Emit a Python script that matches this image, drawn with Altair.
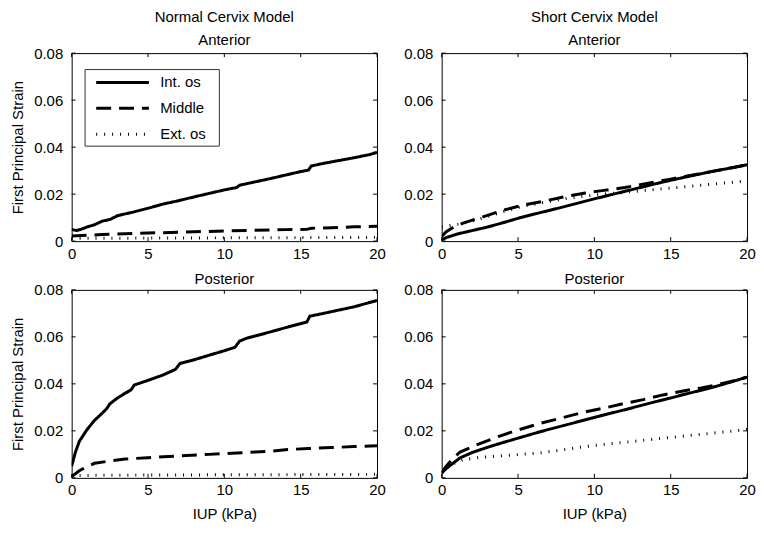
import altair as alt
import pandas as pd

SERIES = ["Int. os", "Middle", "Ext. os"]
DASHES = [[1, 0], [15, 8], [1, 7]]
X_TICKS = [0, 5, 10, 15, 20]
Y_TICKS = [0, 0.02, 0.04, 0.06, 0.08]

# ---- Normal cervix, anterior ----
na_int_x = [0, 0.3, 0.6, 1.0, 1.5, 2.0, 2.5, 3.0, 3.5, 4.0, 5.0, 6.0, 7.0, 8.0, 9.0, 10.0, 10.8, 11.0, 12.0, 13.0, 14.0, 15.0, 15.5, 15.7, 16.5, 17.5, 18.5, 19.5, 20]
na_int_y = [0.0050, 0.0045, 0.0050, 0.0060, 0.0070, 0.0085, 0.0092, 0.0108, 0.0116, 0.0123, 0.0140, 0.0158, 0.0172, 0.0188, 0.0203, 0.0218, 0.0228, 0.0238, 0.0252, 0.0266, 0.0281, 0.0296, 0.0302, 0.0320, 0.0331, 0.0343, 0.0355, 0.0368, 0.0378]
na_mid_x = [0, 1, 2, 4, 6, 8, 10, 12, 14, 15.4, 15.7, 17, 18.5, 20]
na_mid_y = [0.0022, 0.0025, 0.0028, 0.0033, 0.0036, 0.0040, 0.0043, 0.0046, 0.0049, 0.0050, 0.0055, 0.0057, 0.0061, 0.0063]
na_ext_x = [0, 5, 10, 15, 20]
na_ext_y = [0.0012, 0.0013, 0.0014, 0.0015, 0.0016]

# ---- Short cervix, anterior ----
sa_int_x = [0, 0.3, 1, 2, 3, 4, 5, 6, 7, 8, 9, 10, 11, 12, 13, 14, 15, 16, 17, 18, 19, 20]
sa_int_y = [0.0005, 0.0015, 0.0030, 0.0045, 0.0060, 0.0078, 0.0097, 0.0114, 0.0130, 0.0146, 0.0163, 0.0180, 0.0196, 0.0212, 0.0228, 0.0244, 0.0259, 0.0273, 0.0287, 0.0300, 0.0312, 0.0325]
sa_mid_x = [0, 0.3, 0.8, 1.4, 2.7, 4.0, 5.3, 6.7, 8.0, 9.4, 10.5, 12, 13, 14, 15, 16, 17, 18, 19, 20]
sa_mid_y = [0.0020, 0.0040, 0.0060, 0.0077, 0.0103, 0.0131, 0.0153, 0.0170, 0.0188, 0.0205, 0.0215, 0.0228, 0.0240, 0.0252, 0.0264, 0.0276, 0.0288, 0.0300, 0.0312, 0.0325]
sa_ext_x = [0, 0.5, 1.4, 2.7, 4, 5.3, 6.7, 8, 9.4, 10.5, 12, 13, 14, 15, 16, 17, 18, 19, 20]
sa_ext_y = [0.0060, 0.0066, 0.0075, 0.0098, 0.0125, 0.0148, 0.0165, 0.0180, 0.0192, 0.0199, 0.0208, 0.0214, 0.0220, 0.0226, 0.0232, 0.0238, 0.0244, 0.0250, 0.0256]

# ---- Normal cervix, posterior ----
np_int_x = [0, 0.25, 0.5, 1.0, 1.5, 2.0, 2.3, 2.5, 3.0, 3.5, 3.9, 4.1, 5.0, 6.0, 6.8, 7.1, 8.0, 9.0, 10.0, 10.7, 11.0, 11.5, 12.5, 13.5, 14.5, 15.4, 15.6, 16.5, 17.5, 18.5, 19.5, 20]
np_int_y = [0.0050, 0.0110, 0.0155, 0.0205, 0.0245, 0.0275, 0.0295, 0.0315, 0.0340, 0.0360, 0.0375, 0.0395, 0.0415, 0.0438, 0.0462, 0.0487, 0.0502, 0.0522, 0.0541, 0.0556, 0.0582, 0.0595, 0.0612, 0.0630, 0.0648, 0.0663, 0.0688, 0.0700, 0.0714, 0.0728, 0.0746, 0.0755]
np_mid_x = [0, 0.5, 1.0, 1.5, 2.5, 3.5, 5, 6, 7.5, 9, 10.5, 12, 12.8, 14, 15.5, 17, 18.5, 20]
np_mid_y = [0.0005, 0.0030, 0.0048, 0.0062, 0.0072, 0.0080, 0.0086, 0.0090, 0.0095, 0.0100, 0.0105, 0.0110, 0.0112, 0.0120, 0.0125, 0.0129, 0.0133, 0.0137]
np_ext_x = [0, 5, 10, 15, 20]
np_ext_y = [0.0010, 0.0012, 0.0013, 0.0014, 0.0015]

# ---- Short cervix, posterior ----
sp_int_x = [0, 0.3, 0.7, 1.2, 2, 3, 4, 5, 6, 7, 8, 9, 10, 11, 12, 13, 14, 15, 16, 17, 18, 19, 20]
sp_int_y = [0.0020, 0.0040, 0.0060, 0.0085, 0.0108, 0.0130, 0.0150, 0.0169, 0.0188, 0.0206, 0.0223, 0.0240, 0.0257, 0.0274, 0.0290, 0.0307, 0.0324, 0.0340, 0.0357, 0.0373, 0.0390, 0.0409, 0.0429]
sp_mid_x = [0, 0.3, 0.7, 1.2, 2, 2.5, 3.8, 5, 6.4, 7.8, 9.2, 10.5, 11.8, 13.2, 14.5, 15.9, 17, 18, 19, 20]
sp_mid_y = [0.0022, 0.0050, 0.0080, 0.0110, 0.0132, 0.0146, 0.0178, 0.0204, 0.0231, 0.0254, 0.0278, 0.0295, 0.0314, 0.0333, 0.0353, 0.0371, 0.0383, 0.0396, 0.0411, 0.0428]
sp_ext_x = [0, 0.3, 0.7, 1.4, 2.5, 4.2, 6.4, 8, 9.6, 11, 12.5, 14.8, 16.5, 18, 20]
sp_ext_y = [0.0020, 0.0040, 0.0058, 0.0077, 0.0087, 0.0095, 0.0106, 0.0120, 0.0135, 0.0145, 0.0155, 0.0171, 0.0182, 0.0192, 0.0206]

FONT = "Liberation Sans"
W, H = 307, 189
TICK = 4


def make_df(parts):
    rows = []
    for name, xs, ys in parts:
        for i, (x, y) in enumerate(zip(xs, ys)):
            rows.append({"series": name, "order": i, "iup": x, "strain": y})
    return pd.DataFrame(rows)


def panel(parts, title, subtitle, x_title, y_title, show_legend, offset):
    df = make_df(parts)
    xs = alt.Scale(domain=[0, 20], nice=False, zero=False)
    ys = alt.Scale(domain=[0, 0.08], nice=False)
    xa = dict(values=X_TICKS, format="~g", labelFlush=False, labelPadding=5,
              title="IUP (kPa)" if x_title else "")
    ya = dict(values=Y_TICKS, format="~g", labelFlush=False, labelPadding=9,
              title="First Principal Strain" if y_title else "")
    X = lambda f: alt.X(f, scale=xs, axis=alt.Axis(**xa))
    Y = lambda f: alt.Y(f, scale=ys, axis=alt.Axis(**ya))

    if show_legend:
        leg = alt.Legend(
            title=None, orient="none", legendX=13, legendY=16, strokeColor="#333333",
            fillColor="white", padding=3, symbolType="M-1,0H5M11.9,0", symbolSize=312,
            symbolOffset=7, symbolStrokeWidth=3, symbolStrokeColor="black", labelFontSize=15,
            labelFont=FONT, labelColor="black", labelOffset=45, rowPadding=7,
        )
    else:
        leg = None

    lines = alt.Chart(df).mark_line(color="black", strokeWidth=3, strokeCap="butt", clip=True).encode(
        x=X("iup:Q"),
        y=Y("strain:Q"),
        strokeDash=alt.StrokeDash("series:N", scale=alt.Scale(domain=SERIES, range=DASHES),
                                  legend=leg, sort=SERIES),
        order="order:Q",
    )
    xt = pd.DataFrame({"iup": X_TICKS})
    yt = pd.DataFrame({"strain": Y_TICKS})
    tb = alt.Chart(xt).mark_rule(color="black", strokeWidth=1).encode(
        x=X("iup:Q"), y=alt.value(H), y2=alt.value(H - TICK))
    tt = alt.Chart(xt).mark_rule(color="black", strokeWidth=1).encode(
        x=X("iup:Q"), y=alt.value(0), y2=alt.value(TICK))
    tl = alt.Chart(yt).mark_rule(color="black", strokeWidth=1).encode(
        y=Y("strain:Q"), x=alt.value(0), x2=alt.value(TICK))
    tr = alt.Chart(yt).mark_rule(color="black", strokeWidth=1).encode(
        y=Y("strain:Q"), x=alt.value(W - TICK), x2=alt.value(W))

    tp = dict(text=title, fontSize=15, font=FONT, fontWeight="normal", color="black",
              anchor="middle", offset=offset)
    if subtitle:
        tp.update(subtitle=subtitle, subtitleFontSize=15, subtitleFont=FONT,
                  subtitleColor="black", subtitlePadding=8)
    return alt.layer(lines, tb, tt, tl, tr).properties(
        width=W, height=H, title=alt.TitleParams(**tp))


na = panel([("Int. os", na_int_x, na_int_y), ("Middle", na_mid_x, na_mid_y), ("Ext. os", na_ext_x, na_ext_y)],
           "Normal Cervix Model", "Anterior", False, True, True, -2)
sa = panel([("Int. os", sa_int_x, sa_int_y), ("Middle", sa_mid_x, sa_mid_y), ("Ext. os", sa_ext_x, sa_ext_y)],
           "Short Cervix Model", "Anterior", False, False, False, -2)
npn = panel([("Int. os", np_int_x, np_int_y), ("Middle", np_mid_x, np_mid_y), ("Ext. os", np_ext_x, np_ext_y)],
            "Posterior", None, True, True, False, -4)
sp = panel([("Int. os", sp_int_x, sp_int_y), ("Middle", sp_mid_x, sp_mid_y), ("Ext. os", sp_ext_x, sp_ext_y)],
           "Posterior", None, True, False, False, -4)

chart = alt.concat(na, sa, npn, sp, columns=2, spacing={"row": 49, "column": 65}, bounds="flush").resolve_scale(
    strokeDash="independent").resolve_legend(strokeDash="independent").properties(
    padding={"left": 2, "top": 0, "right": 0, "bottom": 0}
).configure(font=FONT).configure_view(
    stroke="black", strokeWidth=1
).configure_axis(
    domain=False, ticks=False, grid=False, labelFontSize=15, titleFontSize=15,
    labelFont=FONT, titleFont=FONT, labelColor="black", titleColor="black",
    titleFontWeight="normal",
).configure_axisX(titlePadding=9).configure_axisY(titlePadding=8)

chart.save("out.html", embed_options={"renderer": "svg", "actions": False})
